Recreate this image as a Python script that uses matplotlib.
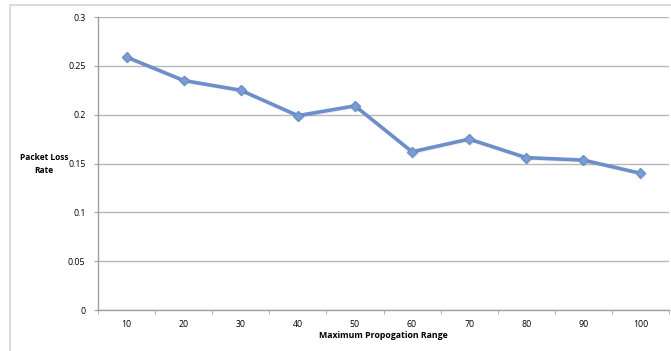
import matplotlib
matplotlib.use("Agg")
import matplotlib.pyplot as plt
import matplotlib.patches as mpatches
import matplotlib.patheffects as pe
import numpy as np

ranges = [10, 20, 30, 40, 50, 60, 70, 80, 90, 100]
loss_rate = [0.259, 0.235, 0.225, 0.199, 0.209, 0.162, 0.175, 0.156, 0.1535, 0.140]
y_ticks = [0, 0.05, 0.1, 0.15, 0.2, 0.25, 0.3]
y_tick_labels = ["0", "0.05", "0.1", "0.15", "0.2", "0.25", "0.3"]

W, H = 671, 351
plt.rcParams['font.family'] = ['Open Sans', 'DejaVu Sans']
fig = plt.figure(figsize=(W / 100, H / 100), dpi=100)

# chart frame
frame = mpatches.Rectangle((10 / W, -0.1), 1.2, (H - 5) / H + 0.1,
                           transform=fig.transFigure, fill=False,
                           edgecolor="#d4d4d4", lw=1.2)
fig.patches.append(frame)

ax = fig.add_axes([98 / W, (H - 310) / H, (669 - 98) / W, (310 - 17) / H])
x = np.arange(len(ranges))
ax.plot(x, loss_rate, color="#6d8fc9", lw=2.6, marker="D", markersize=5,
        markerfacecolor="#7b9dd5", markeredgecolor="#6d8fc9",
        path_effects=[pe.SimpleLineShadow(offset=(0.6, -0.6), alpha=0.08), pe.Normal()],
        solid_joinstyle="round", zorder=3)

ax.set_xlim(-0.5, len(ranges) - 0.5)
ax.set_ylim(0, 0.3)
ax.set_yticks(y_ticks)
ax.set_yticklabels(y_tick_labels)
ax.set_xticks(x)
ax.set_xticklabels([str(r) for r in ranges])
ax.set_xticks(np.arange(len(ranges) + 1) - 0.5, minor=True)
ax.tick_params(axis="x", which="major", length=0, pad=7, labelsize=6.3)
ax.tick_params(axis="x", which="minor", length=3, color="#a0a0a0", direction="out")
ax.tick_params(axis="y", length=3, color="#a0a0a0", labelsize=6.3, pad=6)

ax.grid(axis="y", color="#b8b8b8", lw=1)
ax.set_axisbelow(True)
for s in ["top", "right"]:
    ax.spines[s].set_visible(False)
for s in ["left", "bottom"]:
    ax.spines[s].set_color("#a0a0a0")
    ax.spines[s].set_linewidth(1)

fig.text(44 / W, 1 - 164 / H, "Packet Loss\nRate", ha="center", va="center",
         fontsize=6, fontweight="bold", linespacing=1.6)
fig.text(383 / W, 1 - 336 / H, "Maximum Propogation Range", ha="center", va="center",
         fontsize=6.3, fontweight="bold")

fig.savefig("out.png", dpi=100)
